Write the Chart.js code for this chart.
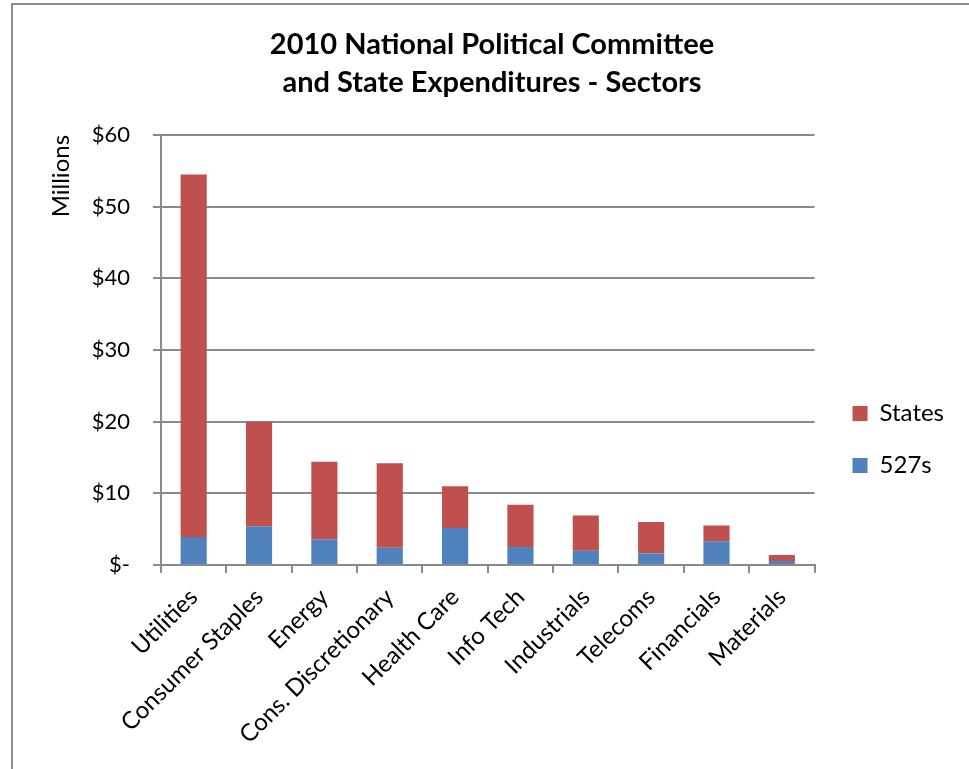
<!DOCTYPE html>
<html>
<head>
<meta charset="utf-8">
<script src="https://cdn.jsdelivr.net/npm/chart.js@4/dist/chart.umd.min.js"></script>
<style>
  html, body { margin: 0; padding: 0; background: #fff; }
  #wrap { position: absolute; left: 0; top: 0; width: 969px; height: 769px; }
</style>
</head>
<body>
<div id="wrap"><canvas id="c" width="969" height="769"></canvas></div>
<script>
const categories = ["Utilities", "Consumer Staples", "Energy", "Cons. Discretionary", "Health Care", "Info Tech", "Industrials", "Telecoms", "Financials", "Materials"];
const series527s = [3.9, 5.4, 3.6, 2.4, 5.15, 2.5, 2.0, 1.6, 3.3, 0.55];
const seriesStates = [50.6, 14.6, 10.8, 11.8, 5.85, 5.9, 4.9, 4.4, 2.2, 0.85];
const yTickValues = [0, 10, 20, 30, 40, 50, 60];
const titleLines = ["2010 National Political Committee", "and State Expenditures - Sectors"];

const FONT = "Lato, 'Open Sans', sans-serif";
const GRID = "#8a8a8a";

const frame = {
  id: 'frame',
  beforeDraw(chart) {
    const ctx = chart.ctx;
    ctx.save();
    ctx.fillStyle = '#fff';
    ctx.fillRect(0, 0, chart.width, chart.height);
    ctx.strokeStyle = '#8c8c8c';
    ctx.lineWidth = 2;
    ctx.beginPath();
    ctx.moveTo(12, chart.height);
    ctx.lineTo(12, 4);
    ctx.lineTo(chart.width, 4);
    ctx.stroke();
    ctx.restore();
  }
};

new Chart(document.getElementById('c'), {
  type: 'bar',
  data: {
    labels: categories,
    datasets: [
      { label: '527s', data: series527s, backgroundColor: '#4F81BD', borderWidth: 0, barPercentage: 0.8, categoryPercentage: 0.5 },
      { label: 'States', data: seriesStates, backgroundColor: '#C0504D', borderWidth: 0, barPercentage: 0.8, categoryPercentage: 0.5 }
    ]
  },
  options: {
    responsive: false,
    animation: false,
    layout: { padding: { left: 30, right: 15, top: 0, bottom: 0 } },
    plugins: {
      title: {
        display: true,
        text: titleLines,
        color: '#000',
        font: { family: FONT, size: 29, weight: 'bold', lineHeight: 1.31 },
        padding: { top: 26, bottom: 33 }
      },
      legend: {
        position: 'right',
        reverse: true,
        align: 'center',
        title: { display: true, text: ' ', font: { family: FONT, size: 10, lineHeight: 1.2 }, padding: { top: 98, bottom: 0 } },
        labels: {
          color: '#000',
          boxWidth: 15,
          boxHeight: 15,
          padding: 28,
          font: { family: FONT, size: 24 }
        }
      },
      tooltip: { enabled: false }
    },
    scales: {
      x: {
        stacked: true,
        grid: { display: true, drawOnChartArea: false, offset: true, color: GRID, lineWidth: 2, tickLength: 8 },
        border: { display: true, color: GRID, width: 2 },
        ticks: { color: '#000', font: { family: FONT, size: 24 }, minRotation: 45, maxRotation: 45, padding: 10 },
        afterFit(scale) { scale.height = 204; }
      },
      y: {
        stacked: true,
        min: 0,
        max: 60,
        afterBuildTicks(scale) { scale.ticks = yTickValues.map(v => ({ value: v })); },
        grid: { color: GRID, lineWidth: 2, tickLength: 8 },
        border: { display: true, color: GRID, width: 2 },
        ticks: {
          color: '#000',
          font: { family: FONT, size: 22 },
          padding: 23,
          callback: (v) => v === 0 ? '$-' : '$' + v
        },
        title: {
          display: true,
          text: 'Millions',
          align: 'end',
          color: '#000',
          font: { family: FONT, size: 24 },
          padding: { top: 17, bottom: 0 }
        },
        afterFit(scale) { scale.width = 131; }
      },
      spacer: {
        type: 'linear',
        position: 'right',
        display: true,
        grid: { display: false },
        border: { display: false },
        ticks: { display: false },
        title: { display: false },
        afterFit(scale) { scale.width = 10; }
      }
    }
  },
  plugins: [frame]
});
</script>
</body>
</html>
